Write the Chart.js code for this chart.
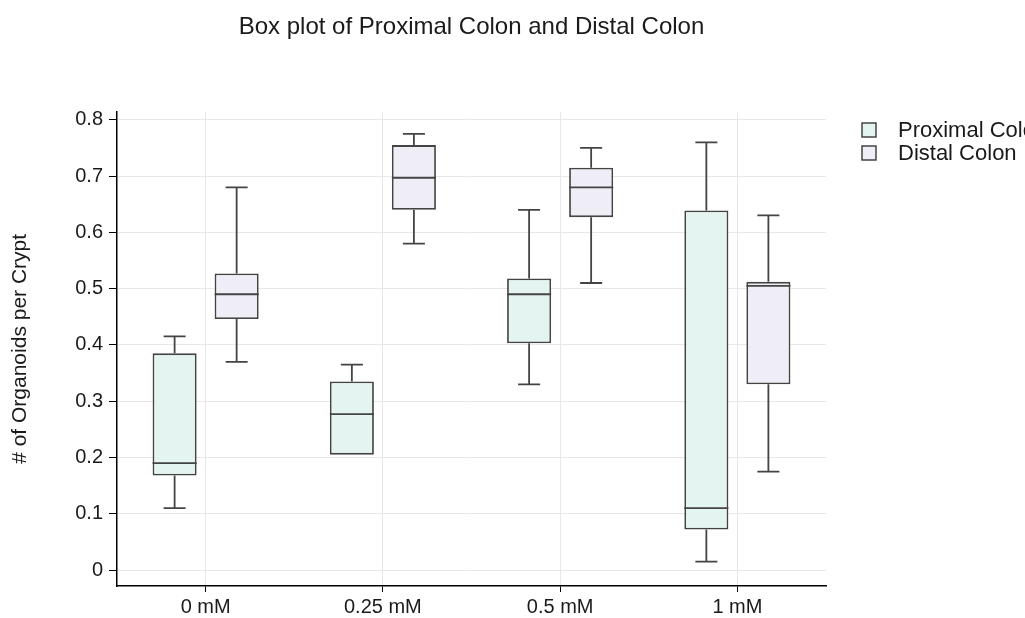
<!DOCTYPE html>
<html>
<head>
<meta charset="utf-8">
<script src="https://cdn.jsdelivr.net/npm/chart.js@4/dist/chart.umd.min.js"></script>
<style>
  html, body { margin: 0; padding: 0; background: #fff; }
  #wrap { width: 1025px; height: 618px; }
</style>
</head>
<body>
<div id="wrap"><canvas id="boxChart"></canvas></div>
<script>
const categories = ["0 mM", "0.25 mM", "0.5 mM", "1 mM"];
const yTicks = [0, 0.1, 0.2, 0.3, 0.4, 0.5, 0.6, 0.7, 0.8];

const proximalMin = [0.11, 0.205, 0.33, 0.015];
const proximalQ1 = [0.168, 0.205, 0.403, 0.072];
const proximalMedian = [0.19, 0.277, 0.49, 0.11];
const proximalQ3 = [0.385, 0.335, 0.518, 0.639];
const proximalMax = [0.415, 0.365, 0.64, 0.76];

const distalMin = [0.37, 0.58, 0.51, 0.175];
const distalQ1 = [0.446, 0.64, 0.627, 0.33];
const distalMedian = [0.49, 0.697, 0.68, 0.505];
const distalQ3 = [0.527, 0.755, 0.715, 0.512];
const distalMax = [0.68, 0.775, 0.75, 0.63];

const FONT = "'Liberation Sans', Arial, Helvetica, sans-serif";
const lineColor = "#444";

const series = [
  { label: "Proximal Colon", fill: "#e4f4f0", min: proximalMin, q1: proximalQ1, med: proximalMedian, q3: proximalQ3, max: proximalMax },
  { label: "Distal Colon", fill: "#efeef6", min: distalMin, q1: distalQ1, med: distalMedian, q3: distalQ3, max: distalMax },
];

// whiskers and medians on top of the floating bars
const boxExtras = {
  id: "boxExtras",
  afterDatasetsDraw(chart) {
    const { ctx } = chart;
    const y = chart.scales.y;
    series.forEach((s, di) => {
      const meta = chart.getDatasetMeta(di);
      meta.data.forEach((bar, i) => {
        const x = bar.x;
        const half = bar.width / 2;
        const cap = bar.width / 4;
        ctx.save();
        ctx.strokeStyle = lineColor;
        ctx.lineWidth = 1.8;
        ctx.beginPath();
        if (s.max[i] > s.q3[i]) {
          ctx.moveTo(x, y.getPixelForValue(s.q3[i]));
          ctx.lineTo(x, y.getPixelForValue(s.max[i]));
          ctx.moveTo(x - cap, y.getPixelForValue(s.max[i]));
          ctx.lineTo(x + cap, y.getPixelForValue(s.max[i]));
        }
        if (s.min[i] < s.q1[i]) {
          ctx.moveTo(x, y.getPixelForValue(s.q1[i]));
          ctx.lineTo(x, y.getPixelForValue(s.min[i]));
          ctx.moveTo(x - cap, y.getPixelForValue(s.min[i]));
          ctx.lineTo(x + cap, y.getPixelForValue(s.min[i]));
        }
        ctx.moveTo(x - half, y.getPixelForValue(s.med[i]));
        ctx.lineTo(x + half, y.getPixelForValue(s.med[i]));
        ctx.stroke();
        ctx.restore();
      });
    });
  },
};

// legend on the right, drawn by hand so the plot area keeps its width
const sideLegend = {
  id: "sideLegend",
  afterDraw(chart) {
    const { ctx } = chart;
    ctx.save();
    ctx.font = "22px " + FONT;
    ctx.textBaseline = "middle";
    series.forEach((s, i) => {
      const cy = 130 + i * 23;
      ctx.fillStyle = s.fill;
      ctx.fillRect(862, cy - 7, 14, 14);
      ctx.strokeStyle = lineColor;
      ctx.lineWidth = 1.5;
      ctx.strokeRect(862, cy - 7, 14, 14);
      ctx.fillStyle = "#1a1a1a";
      ctx.fillText(s.label, 898, cy + 1);
    });
    ctx.restore();
  },
};

new Chart(document.getElementById("boxChart"), {
  type: "bar",
  data: {
    labels: categories,
    datasets: series.map((s) => ({
      label: s.label,
      data: s.q1.map((v, i) => [v, s.q3[i]]),
      backgroundColor: s.fill,
      borderColor: lineColor,
      borderWidth: 1.8,
      borderSkipped: false,
      categoryPercentage: 0.7,
      barPercentage: 0.71,
    })),
  },
  options: {
    responsive: true,
    maintainAspectRatio: false,
    animation: false,
    layout: { padding: { left: 0, right: 199, top: 0, bottom: 0 } },
    plugins: {
      legend: { display: false },
      tooltip: { enabled: false },
      title: {
        display: true,
        fullSize: false,
        text: "Box plot of Proximal Colon and Distal Colon",
        color: "#1a1a1a",
        font: { family: FONT, size: 24, weight: "normal", lineHeight: 1.2 },
        padding: { top: 13, bottom: 70 },
      },
    },
    scales: {
      x: {
        offset: true,
        grid: { offset: false, color: "#e8e8e8", tickColor: "#000", tickLength: 6 },
        border: { color: "#000", width: 1.5 },
        ticks: { color: "#1a1a1a", font: { family: FONT, size: 20 }, padding: 3 },
        afterFit(scale) { scale.height = 32; },
      },
      y: {
        min: -0.0284,
        max: 0.8142,
        grid: { color: "#e8e8e8", tickColor: "#000", tickLength: 8 },
        border: { color: "#000", width: 1.5 },
        ticks: { color: "#1a1a1a", font: { family: FONT, size: 20 }, padding: 6 },
        afterBuildTicks(scale) { scale.ticks = yTicks.map((v) => ({ value: v })); },
        title: {
          display: true,
          text: "# of Organoids per Crypt",
          color: "#1a1a1a",
          font: { family: FONT, size: 21 },
          padding: { top: 8, bottom: 0 },
        },
        afterFit(scale) { scale.width = 117; },
      },
    },
  },
  plugins: [boxExtras, sideLegend],
});
</script>
</body>
</html>
